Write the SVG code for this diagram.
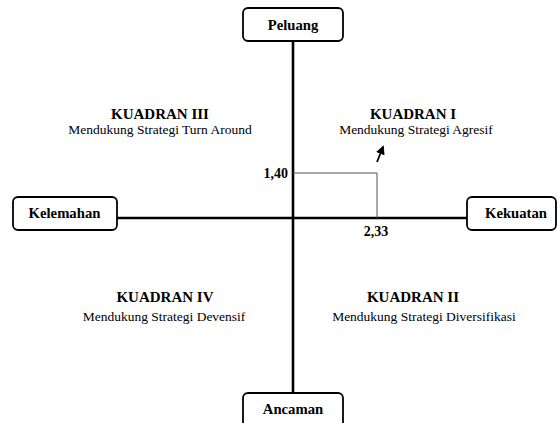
<svg xmlns="http://www.w3.org/2000/svg" width="558" height="423" viewBox="0 0 558 423">
<defs>
<style>
.box{fill:#fff;stroke:#000;stroke-width:1.8}
.lbl{font-family:"Liberation Serif",serif;font-weight:bold;font-size:14.7px;text-anchor:middle;fill:#000}
.qt{font-family:"Liberation Serif",serif;font-weight:bold;font-size:15px;text-anchor:middle;fill:#000}
.qs{font-family:"Liberation Serif",serif;font-size:13.5px;text-anchor:middle;fill:#000}
.num{font-family:"Liberation Serif",serif;font-weight:bold;font-size:14px;fill:#000}
.axis{stroke:#000;stroke-width:2.6;fill:none}
.thin{stroke:#555;stroke-width:1;fill:none}
</style>
<marker id="ah" viewBox="0 0 10 10" refX="8" refY="5" markerWidth="5" markerHeight="5" orient="auto">
<path d="M0,0 L10,5 L0,10 z" fill="#000"/>
</marker>
</defs>
<rect width="558" height="423" fill="#fff"/>
<g id="connectors">
<line class="axis" x1="293" y1="41" x2="293" y2="394"/>
<line class="axis" x1="116" y1="218" x2="468" y2="218"/>
<polyline class="thin" points="293,173 377,173 377,218"/>
<line x1="377" y1="162" x2="383" y2="147" stroke="#000" stroke-width="1.8" marker-end="url(#ah)"/>
</g>
<g id="peluang">
<rect class="box" x="243" y="8" width="100" height="33" rx="5"/>
<text class="lbl" x="293" y="30">Peluang</text>
</g>
<g id="kelemahan">
<rect class="box" x="13" y="197" width="104" height="33" rx="5"/>
<text class="lbl" x="64.5" y="218">Kelemahan</text>
</g>
<g id="kekuatan">
<rect class="box" x="467" y="197" width="89" height="33" rx="5"/>
<text class="lbl" x="516" y="218">Kekuatan</text>
</g>
<g id="ancaman">
<rect class="box" x="243" y="393" width="100" height="36" rx="5"/>
<text class="lbl" x="293" y="414">Ancaman</text>
</g>
<g id="kuadran3">
<text class="qt" x="160" y="119">KUADRAN III</text>
<text class="qs" x="160" y="134">Mendukung Strategi Turn Around</text>
</g>
<g id="kuadran1">
<text class="qt" x="413" y="119">KUADRAN I</text>
<text class="qs" x="416" y="134">Mendukung Strategi Agresif</text>
</g>
<g id="kuadran4">
<text class="qt" x="165" y="302">KUADRAN IV</text>
<text class="qs" x="164" y="321">Mendukung Strategi Devensif</text>
</g>
<g id="kuadran2">
<text class="qt" x="413" y="302">KUADRAN II</text>
<text class="qs" x="424" y="321">Mendukung Strategi Diversifikasi</text>
</g>
<g id="values">
<text class="num" x="288" y="178" text-anchor="end">1,40</text>
<text class="num" x="376" y="236" text-anchor="middle">2,33</text>
</g>
</svg>
